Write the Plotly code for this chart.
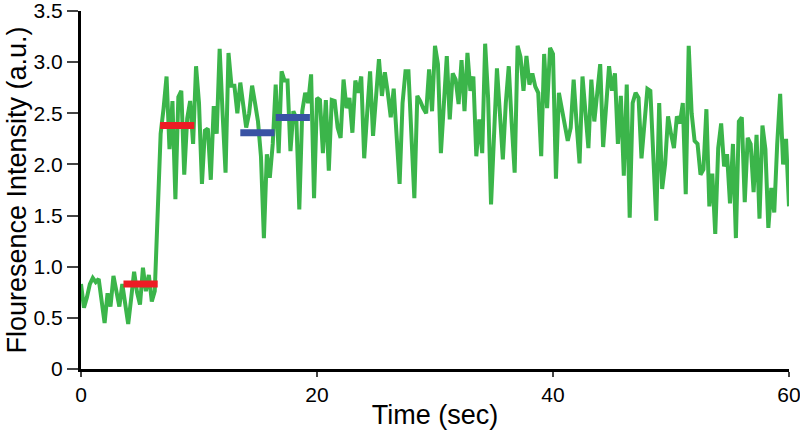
import plotly.graph_objects as go

# Green trace: intensity sampled every 0.25 s from 0 to 60 s
intensity = [
    0.83, 0.6, 0.7, 0.83, 0.89, 0.85, 0.88, 0.65, 0.45, 0.74, 0.61, 0.91, 0.75,
    0.61, 0.83, 0.6, 0.44, 0.69, 0.95, 0.75, 0.63, 0.99, 0.76, 0.92, 0.66, 0.76,
    1.48, 2.3, 2.55, 2.86, 2.15, 2.62, 1.66, 2.66, 2.72, 1.9,
    2.45, 2.62, 2.2, 2.96, 2.6, 1.81, 2.33, 2.35, 1.85, 2.57,
    2.3, 3.13, 2.5, 1.92, 3.09, 2.77, 2.77, 2.5, 2.8, 2.6,
    2.36, 2.5, 2.77, 2.6, 2.42, 2.08, 1.28, 2.1, 1.87, 2.2,
    2.78, 2.11, 2.91, 2.82, 2.82, 2.13, 2.52, 2.45, 1.56, 2.52,
    2.7, 2.6, 2.88, 1.67,
    2.65, 2.63, 2.11, 2.63, 1.94, 2.63, 2.62, 2.36, 2.26, 2.83,
    2.55, 2.65, 2.31, 2.82, 2.7, 2.86, 2.06, 2.5, 2.91, 2.28,
    2.62, 3.03, 2.67, 2.9, 2.7, 2.46, 2.74, 2.3, 1.81, 2.6,
    2.91, 2.91, 2.3, 1.67, 2.67, 2.62, 2.55, 2.5, 2.93, 2.52,
    3.16, 2.98, 2.11, 2.6, 3.06, 2.44, 2.89, 2.83, 2.59, 3.02,
    2.52, 3.09, 2.72, 2.86, 2.08, 2.44, 2.11, 3.18, 2.65, 1.61,
    2.4, 2.94, 2.5, 2.05, 2.6, 2.96, 2.4, 1.92, 3.16, 3.05,
    2.72, 3.06, 2.78, 2.89, 2.76, 2.7, 2.08, 3.08, 2.55, 3.14,
    3.08, 1.86, 2.7, 2.55, 2.4, 2.23, 2.36, 2.83, 2.4, 2.01,
    2.86, 2.5, 2.16, 2.83, 2.42, 2.7, 2.98, 2.17, 2.6, 2.96,
    2.72, 2.89, 2.2, 2.67, 1.89, 2.78, 1.48, 2.6, 2.7, 2.65,
    2.06, 2.4, 2.74, 2.72, 2.17, 1.45, 2.6, 1.76, 2.0, 2.47,
    2.3, 2.16, 2.47, 2.4, 2.6, 1.71, 3.16, 2.5, 2.23, 2.2,
    1.9, 1.95, 2.54, 1.59, 1.91, 1.32, 2.16, 2.4, 1.98, 2.1,
    1.62, 2.2, 1.28, 2.42, 2.46, 1.63, 2.26, 2.2, 1.73, 2.29,
    1.47, 2.38, 2.15, 1.38, 1.77, 1.53, 2.2, 2.69, 2.0, 2.25,
    1.59,
]
time_step = 0.25
time_sec = [i * time_step for i in range(len(intensity))]

# Step level markers (start, end, level)
red_starts = [3.6, 6.7]
red_ends = [6.5, 9.6]
red_levels = [0.83, 2.38]
blue_starts = [13.5, 16.5]
blue_ends = [16.4, 19.4]
blue_levels = [2.31, 2.46]

x_ticks = [0, 20, 40, 60]
y_ticks = [0, 0.5, 1.0, 1.5, 2.0, 2.5, 3.0, 3.5]
y_tick_labels = ["0", "0.5", "1.0", "1.5", "2.0", "2.5", "3.0", "3.5"]

fig = go.Figure()
fig.add_trace(go.Scatter(x=time_sec, y=intensity, mode="lines",
                         line=dict(color="#3bb54a", width=4),
                         showlegend=False, hoverinfo="skip", cliponaxis=False))

def add_levels(starts, ends, levels, color):
    xs, ys = [], []
    for s, e, l in zip(starts, ends, levels):
        xs += [s, e, None]
        ys += [l, l, None]
    fig.add_trace(go.Scatter(x=xs, y=ys, mode="lines",
                             line=dict(color=color, width=7),
                             showlegend=False, hoverinfo="skip"))

add_levels(red_starts, red_ends, red_levels, "#ed1c24")
add_levels(blue_starts, blue_ends, blue_levels, "#3953a4")

font_family = "Liberation Sans, Arial, sans-serif"
fig.update_layout(
    width=800, height=430,
    margin=dict(l=81, r=11, t=11, b=61),
    plot_bgcolor="white", paper_bgcolor="white",
    font=dict(family=font_family, color="black"),
    xaxis=dict(range=[0, 60], tickvals=x_ticks, ticks="outside", ticklen=5,
               tickwidth=2, showline=True, linewidth=3, linecolor="black",
               showgrid=False, zeroline=False, tickfont=dict(size=21),
               automargin=False, ticklabeloverflow="allow",
               title=dict(text="Time (sec)", font=dict(size=27), standoff=0)),
    yaxis=dict(range=[0, 3.5], tickvals=y_ticks, ticktext=y_tick_labels,
               ticks="outside", ticklen=11, tickwidth=2, showline=True,
               linewidth=3, linecolor="black", showgrid=False, zeroline=False,
               tickfont=dict(size=21), automargin=False, ticklabeloverflow="allow",
               title=dict(text="Flouresence Intensity (a.u.)", font=dict(size=27),
                          standoff=0)),
)

fig.write_html("out.html", config={"displayModeBar": False},
               post_script="document.body.style.margin='0';document.body.style.padding='0';")
